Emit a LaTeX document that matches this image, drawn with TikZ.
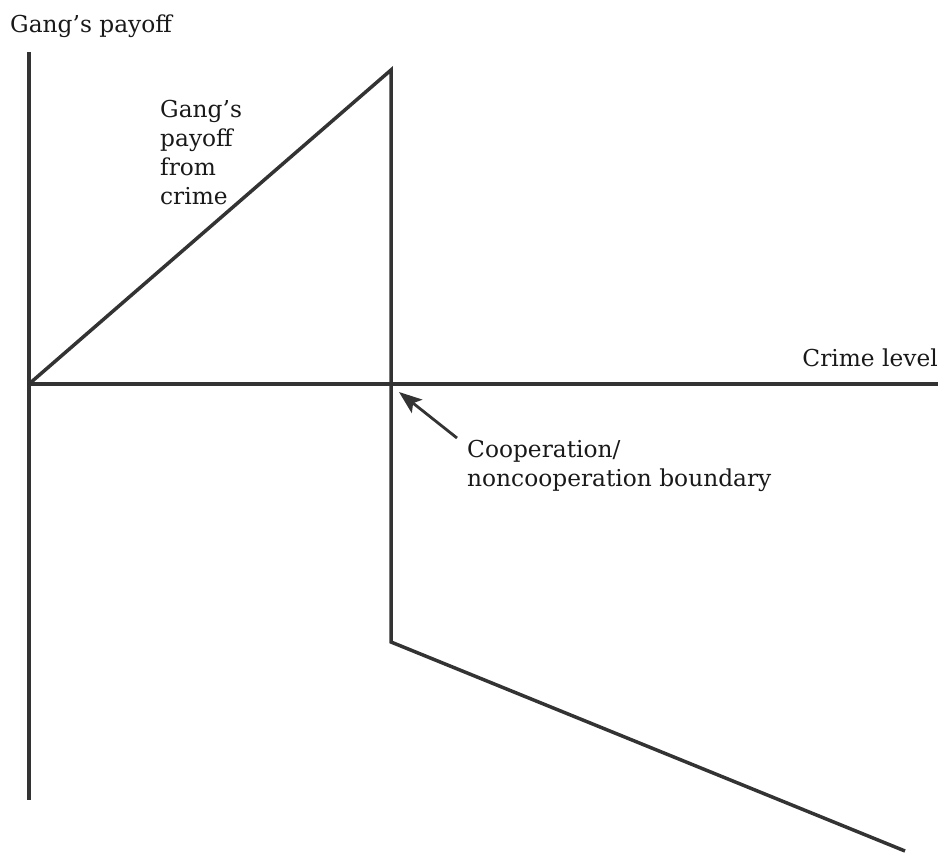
\documentclass[tikz,border=0pt]{standalone}
\usepackage{fontspec}
\setmainfont{DejaVu Serif}
\usetikzlibrary{arrows.meta}
\begin{document}
\begin{tikzpicture}[x=1pt,y=-1pt,
  curve/.style={line width=3.5pt,draw=black!80,line join=miter},
  axis/.style={line width=3.5pt,draw=black!80},
  lbl/.style={anchor=base west,inner sep=0pt,font=\fontsize{23.3}{29}\selectfont,text=black!90},
  pointer/.style={line width=2.8pt,draw=black!80,-{Stealth[length=23pt,width=17pt,inset=5pt]}}]
\useasboundingbox (0,0) rectangle (943,854);
\coordinate (ytop) at (29,52);
\coordinate (ybot) at (29,800);
\coordinate (o) at (29,384);
\coordinate (xend) at (938,384);
\coordinate (peak) at (391,70);
\coordinate (drop) at (391,642);
\coordinate (tail) at (905,851);
\coordinate (tip) at (399,392);
\coordinate (atail) at (457,438);
\draw[axis] (ytop) -- (ybot);
\draw[axis] (o) -- (xend);
\draw[curve] (o) -- (peak) -- (drop) -- (tail);
\draw[pointer] (atail) -- (tip);
\node[lbl] (ylab) at (10,32) {Gang’s payoff};
\node[lbl,anchor=base east] (xlab) at (938,366) {Crime level};
\node[lbl,align=left,anchor=north west] (clab) at (160,100) {Gang’s\\payoff\\from\\crime};
\node[lbl,align=left,anchor=north west] (blab) at (467,440) {Cooperation/\\noncooperation boundary};
\end{tikzpicture}
\end{document}
